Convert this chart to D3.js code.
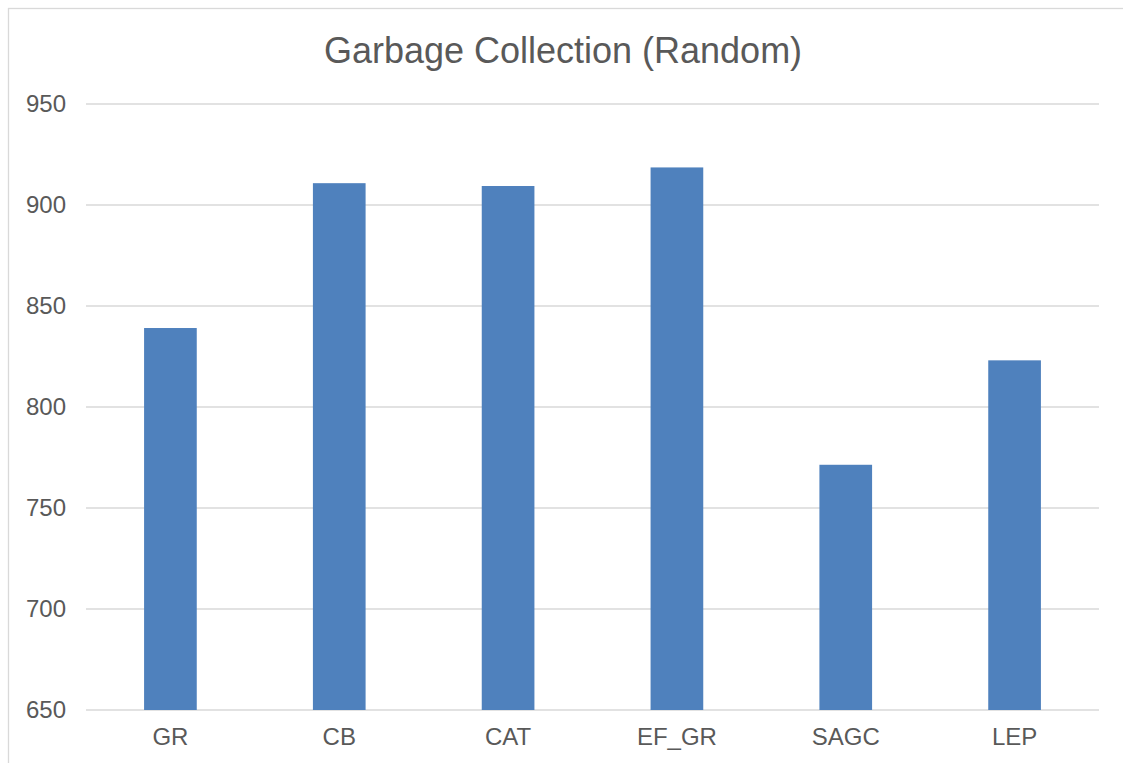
<!DOCTYPE html>
<html>
<head>
<meta charset="utf-8">
<script src="https://cdn.jsdelivr.net/npm/d3@7"></script>
<style>
  html, body { margin: 0; padding: 0; background: #ffffff; }
  svg { display: block; }
  text { font-family: "Liberation Sans", Arial, sans-serif; fill: #595959; }
</style>
</head>
<body>
<svg id="chart" width="1123" height="763"></svg>
<script>
const categories = ["GR", "CB", "CAT", "EF_GR", "SAGC", "LEP"];
const values = [839.1, 910.8, 909.4, 918.6, 771.4, 823.1];
const yTicks = [650, 700, 750, 800, 850, 900, 950];
const title = "Garbage Collection (Random)";

const svg = d3.select("#chart");
const plot = { left: 86, right: 1099, top: 104, bottom: 710 };

// chart border (extends past the viewport, as in the reference)
svg.append("rect")
  .attr("x", 8.5).attr("y", 8.5)
  .attr("width", 1140).attr("height", 780)
  .attr("fill", "#ffffff")
  .attr("stroke", "#d9d9d9")
  .attr("stroke-width", 1.3);

const x = d3.scaleBand()
  .domain(categories)
  .range([plot.left, plot.right])
  .paddingInner(0.688)
  .paddingOuter(0.344);

const y = d3.scaleLinear()
  .domain([650, 950])
  .range([plot.bottom, plot.top]);

// gridlines
svg.append("g")
  .selectAll("line")
  .data(yTicks)
  .join("line")
  .attr("x1", plot.left).attr("x2", plot.right)
  .attr("y1", d => y(d)).attr("y2", d => y(d))
  .attr("stroke", "#d9d9d9")
  .attr("stroke-width", 1.5);

// y axis labels
const yAxis = d3.axisLeft(y).tickValues(yTicks).tickSize(0).tickPadding(0).tickFormat(d3.format("d"));
const gy = svg.append("g")
  .attr("transform", `translate(${plot.left - 20},0)`)
  .call(yAxis);
gy.select(".domain").remove();
gy.selectAll("text")
  .attr("font-size", 24)
  .attr("font-family", "Liberation Sans, Arial, sans-serif")
  .attr("fill", "#595959");

// bars
svg.append("g")
  .selectAll("rect")
  .data(categories.map((c, i) => ({ c, v: values[i] })))
  .join("rect")
  .attr("x", d => x(d.c))
  .attr("width", x.bandwidth())
  .attr("y", d => y(d.v))
  .attr("height", d => y(650) - y(d.v))
  .attr("fill", "#4f81bd");

// x axis labels
const xAxis = d3.axisBottom(x).tickSize(0).tickPadding(0);
const gx = svg.append("g")
  .attr("transform", `translate(0,${plot.bottom + 18})`)
  .call(xAxis);
gx.select(".domain").remove();
gx.selectAll("text")
  .attr("font-size", 24)
  .attr("font-family", "Liberation Sans, Arial, sans-serif")
  .attr("fill", "#595959");

// title
svg.append("text")
  .attr("x", 563)
  .attr("y", 63)
  .attr("text-anchor", "middle")
  .attr("font-size", 36)
  .text(title);
</script>
</body>
</html>
